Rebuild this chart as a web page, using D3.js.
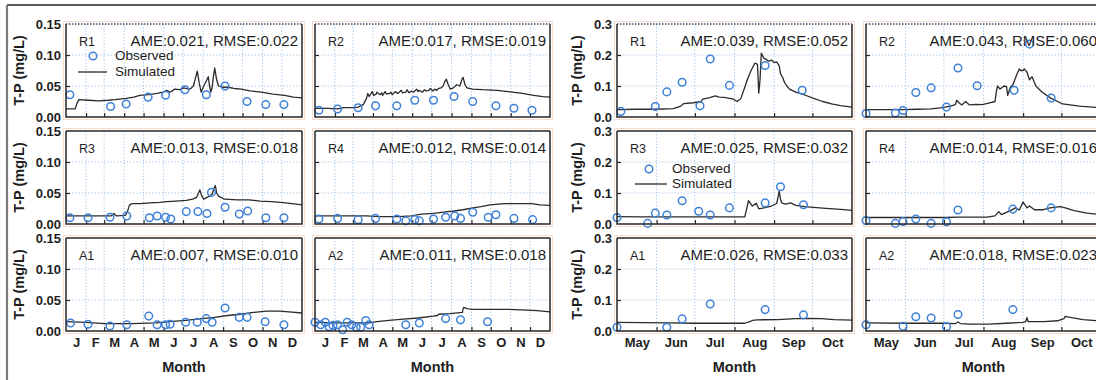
<!DOCTYPE html>
<html>
<head>
<meta charset="utf-8">
<script src="https://cdn.jsdelivr.net/npm/d3@7"></script>
<style>
  html, body { margin: 0; padding: 0; background: #ffffff; }
  svg { display: block; font-family: "Liberation Sans", Arial, Helvetica, sans-serif; }
</style>
</head>
<body>
<svg id="chart" width="1096" height="380"></svg>
<script>
// ---------------- tick labels / categories ----------------
const yearMonthLabels = ["J", "F", "M", "A", "M", "J", "J", "A", "S", "O", "N", "D"];
const seasonMonthLabels = ["May", "Jun", "Jul", "Aug", "Sep", "Oct"];
const yearTicks = [0, 0.05, 0.10, 0.15];
const seasonTicks = [0, 0.1, 0.2, 0.3];
const siteNames = ["R1", "R2", "R3", "R4", "A1", "A2"];

// ---------------- goodness-of-fit labels ----------------
const yearStats = [
  "AME:0.021, RMSE:0.022", "AME:0.017, RMSE:0.019",
  "AME:0.013, RMSE:0.018", "AME:0.012, RMSE:0.014",
  "AME:0.007, RMSE:0.010", "AME:0.011, RMSE:0.018"
];
const seasonStats = [
  "AME:0.039, RMSE:0.052", "AME:0.043, RMSE:0.060",
  "AME:0.025, RMSE:0.032", "AME:0.014, RMSE:0.016",
  "AME:0.026, RMSE:0.033", "AME:0.018, RMSE:0.023"
];

// ---------------- full-year run: [day since Jan 1, T-P mg/L] ----------------
const yearObsR1 = [[6,0.036],[69,0.017],[93,0.021],[127,0.032],[154,0.035],[184,0.044],[217,0.036],[246,0.050],[280,0.025],[309,0.020],[337,0.020]];
const yearSimR1 = [[0,0.013],[14,0.013],[17,0.022],[20,0.028],[35,0.027],[50,0.026],[65,0.027],[76,0.028],[93,0.030],[105,0.032],[114,0.035],[128,0.036],[141,0.038],[150,0.040],[156,0.043],[161,0.040],[168,0.045],[176,0.044],[182,0.047],[186,0.046],[192,0.045],[197,0.050],[200,0.062],[203,0.074],[206,0.055],[209,0.040],[213,0.050],[217,0.058],[220,0.065],[222,0.050],[224,0.040],[226,0.048],[228,0.065],[230,0.079],[233,0.060],[236,0.050],[242,0.048],[250,0.048],[260,0.046],[271,0.045],[285,0.042],[302,0.040],[320,0.037],[338,0.035],[352,0.032],[365,0.031]];

const yearObsR2 = [[6,0.011],[35,0.013],[67,0.015],[94,0.018],[127,0.018],[155,0.027],[184,0.027],[216,0.033],[245,0.025],[281,0.018],[309,0.014],[337,0.011]];
const yearSimR2 = [[0,0.014],[20,0.014],[35,0.013],[45,0.015],[59,0.015],[67,0.016],[75,0.020],[80,0.030],[82,0.038],[84,0.033],[86,0.036],[89,0.041],[91,0.035],[95,0.037],[96,0.040],[101,0.036],[104,0.039],[105,0.035],[109,0.041],[111,0.037],[116,0.038],[118,0.040],[120,0.036],[125,0.041],[128,0.038],[130,0.039],[134,0.043],[136,0.039],[141,0.040],[143,0.044],[146,0.039],[150,0.042],[153,0.040],[158,0.045],[160,0.041],[162,0.043],[167,0.040],[170,0.044],[172,0.042],[177,0.043],[179,0.046],[183,0.042],[186,0.045],[189,0.043],[192,0.046],[196,0.047],[199,0.050],[202,0.058],[204,0.061],[207,0.052],[210,0.045],[215,0.047],[220,0.052],[225,0.050],[228,0.060],[230,0.064],[233,0.052],[236,0.047],[245,0.045],[260,0.044],[283,0.043],[300,0.041],[322,0.038],[340,0.035],[354,0.033],[365,0.032]];

const yearObsR3 = [[6,0.010],[34,0.010],[68,0.011],[94,0.013],[129,0.010],[141,0.013],[154,0.011],[162,0.008],[186,0.020],[204,0.020],[218,0.017],[225,0.051],[246,0.027],[268,0.016],[281,0.021],[309,0.010],[337,0.010]];
const yearSimR3 = [[0,0.013],[30,0.013],[60,0.013],[70,0.013],[74,0.017],[78,0.013],[92,0.014],[95,0.020],[98,0.030],[102,0.033],[115,0.033],[130,0.034],[145,0.035],[156,0.036],[170,0.037],[186,0.038],[196,0.040],[202,0.043],[205,0.050],[207,0.055],[210,0.045],[213,0.040],[218,0.043],[222,0.045],[226,0.048],[229,0.058],[231,0.062],[233,0.050],[236,0.045],[245,0.040],[265,0.039],[283,0.039],[300,0.037],[318,0.036],[340,0.034],[365,0.031]];

const yearObsR4 = [[6,0.008],[35,0.009],[67,0.007],[94,0.009],[127,0.008],[141,0.005],[155,0.007],[162,0.005],[184,0.008],[203,0.011],[217,0.013],[226,0.009],[245,0.019],[269,0.011],[281,0.015],[309,0.009],[338,0.007]];
const yearSimR4 = [[0,0.013],[40,0.013],[80,0.013],[100,0.012],[130,0.012],[150,0.013],[165,0.016],[184,0.017],[200,0.019],[216,0.021],[230,0.023],[245,0.026],[258,0.028],[272,0.031],[285,0.032],[295,0.033],[315,0.033],[336,0.033],[350,0.031],[365,0.030]];

const yearObsA1 = [[7,0.013],[34,0.011],[68,0.008],[94,0.010],[128,0.024],[141,0.010],[154,0.010],[161,0.011],[185,0.014],[203,0.014],[217,0.020],[226,0.014],[246,0.037],[268,0.022],[280,0.022],[308,0.015],[337,0.010]];
const yearSimA1 = [[0,0.015],[30,0.014],[60,0.012],[100,0.012],[140,0.013],[160,0.015],[185,0.017],[210,0.020],[230,0.022],[250,0.025],[270,0.027],[290,0.030],[310,0.032],[330,0.032],[345,0.031],[365,0.029]];

const yearObsA2 = [[0,0.014],[9,0.010],[16,0.014],[22,0.007],[28,0.009],[35,0.010],[43,0.002],[50,0.014],[57,0.010],[64,0.006],[71,0.006],[79,0.017],[84,0.010],[141,0.010],[162,0.013],[203,0.020],[226,0.018],[268,0.015]];
const yearSimA2 = [[0,0.014],[30,0.013],[60,0.013],[84,0.013],[96,0.015],[115,0.017],[137,0.019],[160,0.021],[184,0.024],[190,0.025],[192,0.027],[210,0.028],[229,0.030],[230,0.036],[231,0.038],[236,0.036],[245,0.035],[270,0.035],[300,0.035],[320,0.034],[345,0.033],[365,0.031]];

// ---------------- growing-season run: [day since May 1, T-P mg/L] ----------------
const seasonObsR1 = [[3,0.018],[30,0.034],[39,0.081],[51,0.112],[65,0.036],[73,0.187],[88,0.102],[116,0.166],[145,0.086]];
const seasonSimR1 = [[0,0.024],[15,0.025],[30,0.025],[44,0.027],[50,0.035],[52,0.043],[60,0.046],[66,0.050],[67,0.058],[72,0.062],[77,0.068],[80,0.064],[84,0.063],[88,0.060],[91,0.058],[94,0.050],[97,0.060],[100,0.095],[102,0.120],[105,0.150],[108,0.174],[110,0.170],[111,0.077],[112,0.120],[113,0.206],[115,0.190],[117,0.185],[119,0.180],[121,0.184],[123,0.176],[125,0.178],[127,0.165],[128,0.140],[130,0.125],[131,0.113],[133,0.100],[135,0.090],[140,0.080],[147,0.071],[154,0.060],[161,0.050],[168,0.042],[175,0.037],[184,0.032]];

const seasonObsR2 = [[0,0.011],[23,0.013],[29,0.021],[39,0.079],[51,0.094],[63,0.032],[72,0.158],[87,0.101],[116,0.086],[128,0.235],[145,0.061]];
const seasonSimR2 = [[0,0.024],[15,0.024],[29,0.024],[40,0.025],[51,0.026],[60,0.030],[66,0.035],[70,0.040],[71,0.054],[73,0.045],[75,0.039],[78,0.050],[81,0.039],[86,0.041],[91,0.040],[96,0.045],[101,0.050],[102,0.080],[103,0.100],[105,0.090],[108,0.100],[110,0.098],[111,0.070],[113,0.095],[115,0.104],[118,0.136],[120,0.155],[121,0.150],[123,0.150],[124,0.155],[126,0.145],[128,0.120],[130,0.130],[133,0.100],[138,0.080],[145,0.060],[154,0.042],[167,0.035],[184,0.030]];

const seasonObsR3 = [[0,0.021],[24,0.002],[30,0.035],[39,0.029],[51,0.075],[64,0.041],[73,0.029],[88,0.052],[116,0.068],[128,0.120],[146,0.062]];
const seasonSimR3 = [[0,0.024],[20,0.023],[50,0.023],[80,0.023],[100,0.023],[101,0.040],[103,0.075],[106,0.058],[109,0.067],[111,0.049],[115,0.052],[121,0.058],[125,0.066],[126,0.085],[127,0.105],[128,0.080],[129,0.068],[132,0.064],[136,0.068],[140,0.060],[147,0.056],[161,0.051],[175,0.047],[184,0.044]];

const seasonObsR4 = [[0,0.011],[23,0.002],[29,0.008],[39,0.016],[51,0.002],[63,0.007],[72,0.045],[115,0.048],[145,0.052]];
const seasonSimR4 = [[0,0.021],[30,0.021],[60,0.021],[72,0.022],[85,0.022],[95,0.022],[101,0.026],[104,0.040],[106,0.030],[109,0.036],[113,0.043],[117,0.052],[120,0.045],[123,0.071],[126,0.052],[128,0.058],[132,0.046],[139,0.046],[144,0.052],[152,0.056],[156,0.052],[163,0.043],[173,0.035],[184,0.030]];

const seasonObsA1 = [[0,0.012],[39,0.012],[51,0.039],[73,0.087],[116,0.069],[146,0.052]];
const seasonSimA1 = [[0,0.028],[20,0.027],[40,0.026],[60,0.025],[80,0.025],[100,0.025],[104,0.030],[106,0.034],[110,0.036],[126,0.037],[140,0.040],[150,0.041],[160,0.040],[170,0.037],[184,0.035]];

const seasonObsA2 = [[0,0.020],[29,0.015],[39,0.046],[51,0.042],[63,0.014],[72,0.053],[115,0.069]];
const seasonSimA2 = [[0,0.026],[30,0.025],[60,0.025],[70,0.024],[72,0.029],[74,0.024],[81,0.022],[96,0.022],[110,0.025],[123,0.028],[125,0.030],[126,0.043],[127,0.030],[139,0.030],[150,0.033],[155,0.040],[156,0.047],[161,0.043],[170,0.037],[184,0.032]];

// ---------------- figure assembly ----------------
const svg = d3.select("#chart");
const colors = { frame: "#262626", grid: "#9fc3e6", obs: "#3f82d8", sim: "#2b2b2b", text: "#1e1e1e", halo: "#f6dccd" };

// outer figure border
svg.append("line").attr("x1", 7).attr("x2", 1096).attr("y1", 5).attr("y2", 5)
  .attr("stroke", "#1f1f1f").attr("stroke-width", 1.5);
svg.append("line").attr("x1", 7).attr("x2", 7).attr("y1", 5).attr("y2", 380)
  .attr("stroke", "#7a7a7a").attr("stroke-width", 2.2);

const rowsY = [[24, 117], [131, 224], [238, 331]];

const groups = [
  {
    cols: [[66, 302], [315, 550]],
    start: new Date(Date.UTC(2011, 0, 1)), end: new Date(Date.UTC(2012, 0, 1)),
    yMax: 0.15, ticks: yearTicks, fmt: d3.format(".2f"), months: yearMonthLabels,
    stats: yearStats,
    obs: [yearObsR1, yearObsR2, yearObsR3, yearObsR4, yearObsA1, yearObsA2],
    sim: [yearSimR1, yearSimR2, yearSimR3, yearSimR4, yearSimA1, yearSimA2],
    legendPanel: 0,
    legend: { cx: 27, cy: 32, tx: 49, ty1: 36, lx1: 12, lx2: 41, ly: 48, ty2: 52 },
    yTitleX: 19
  },
  {
    cols: [[617, 852], [866, 1101]],
    start: new Date(Date.UTC(2011, 4, 1)), end: new Date(Date.UTC(2011, 10, 1)),
    yMax: 0.3, ticks: seasonTicks, fmt: d3.format(".1f"), months: seasonMonthLabels,
    stats: seasonStats,
    obs: [seasonObsR1, seasonObsR2, seasonObsR3, seasonObsR4, seasonObsA1, seasonObsA2],
    sim: [seasonSimR1, seasonSimR2, seasonSimR3, seasonSimR4, seasonSimA1, seasonSimA2],
    legendPanel: 2,
    legend: { cx: 32, cy: 38, tx: 55, ty1: 42, lx1: 18, lx2: 50, ly: 53, ty2: 57 },
    yTitleX: 577
  }
];

groups.forEach((g, gi) => {
  const monthStarts = d3.utcMonth.range(g.start, g.end);
  const monthBounds = monthStarts.slice(1);
  const monthMids = monthStarts.map(m => new Date((+m + +d3.utcMonth.offset(m, 1)) / 2));

  siteNames.forEach((site, p) => {
    const row = Math.floor(p / 2), col = p % 2;
    const [x0, x1] = g.cols[col];
    const [y0, y1] = rowsY[row];
    const x = d3.scaleUtc().domain([g.start, g.end]).range([x0, x1]);
    const y = d3.scaleLinear().domain([0, g.yMax]).range([y1, y0]);
    const day = d => d3.utcDay.offset(g.start, d[0]);

    const panel = svg.append("g").attr("class", `panel g${gi}-${site}`);
    const clipId = `clip-${gi}-${p}`;
    panel.append("clipPath").attr("id", clipId)
      .append("rect").attr("x", x0).attr("y", y0 - 6).attr("width", x1 - x0).attr("height", y1 - y0 + 12);

    // soft warm fringe around the frame
    panel.append("rect").attr("x", x0 - 2.5).attr("y", y0 - 2.5)
      .attr("width", x1 - x0 + 5).attr("height", y1 - y0 + 5)
      .attr("fill", "none").attr("stroke", colors.halo).attr("stroke-width", 1);

    // dotted grid
    const grid = panel.append("g").attr("stroke", colors.grid).attr("stroke-width", 1)
      .attr("stroke-dasharray", "1.2,2");
    grid.selectAll("line.v").data(monthBounds).join("line").attr("class", "v")
      .attr("x1", d => x(d)).attr("x2", d => x(d)).attr("y1", y0).attr("y2", y1);
    grid.selectAll("line.h").data(g.ticks.filter(t => t > 0 && t < g.yMax)).join("line").attr("class", "h")
      .attr("x1", x0).attr("x2", x1).attr("y1", d => y(d)).attr("y2", d => y(d));

    // y axis (inward ticks), labels only on the left column
    const yAxis = d3.axisLeft(y).tickValues(g.ticks).tickSize(-4).tickPadding(5)
      .tickFormat(col === 0 ? g.fmt : "");
    const ya = panel.append("g").attr("transform", `translate(${x0},0)`).call(yAxis);
    ya.select(".domain").remove();
    ya.selectAll(".tick line").attr("stroke", colors.frame).attr("stroke-width", 1.2);
    ya.selectAll(".tick text").attr("fill", colors.text).attr("font-size", 13).attr("font-weight", "bold");
    ya.selectAll(".tick").filter(d => d === 0 || d === g.yMax).select("line").remove();

    // x axis month boundaries (inward ticks)
    const xa = panel.append("g").attr("transform", `translate(0,${y1})`)
      .call(d3.axisBottom(x).tickValues(monthBounds).tickSize(-4).tickFormat(""));
    xa.select(".domain").remove();
    xa.selectAll(".tick line").attr("stroke", colors.frame).attr("stroke-width", 1.2);

    // month names centred on each month, bottom row only
    if (row === 2) {
      const ml = panel.append("g").attr("transform", `translate(0,${y1})`)
        .call(d3.axisBottom(x).tickValues(monthMids).tickSize(0).tickPadding(7)
          .tickFormat((d, i) => g.months[i]));
      ml.select(".domain").remove();
      ml.selectAll(".tick text").attr("fill", colors.text).attr("font-size", 13).attr("font-weight", "bold");
      panel.append("text").attr("x", (x0 + x1) / 2).attr("y", 372).attr("text-anchor", "middle")
        .attr("font-size", 14.5).attr("font-weight", "bold").attr("fill", colors.text).text("Month");
    }

    // y title on the left column
    if (col === 0) {
      panel.append("text")
        .attr("transform", `translate(${g.yTitleX},${(y0 + y1) / 2}) rotate(-90)`)
        .attr("text-anchor", "middle").attr("dy", "0.35em")
        .attr("font-size", 14.5).attr("font-weight", "bold").attr("fill", colors.text)
        .text("T-P (mg/L)");
    }

    // simulated series
    const line = d3.line().x(d => x(day(d))).y(d => y(d[1]));
    panel.append("path").datum(g.sim[p]).attr("d", line)
      .attr("clip-path", `url(#${clipId})`)
      .attr("fill", "none").attr("stroke", colors.sim).attr("stroke-width", 1.3)
      .attr("stroke-linejoin", "round");

    // observed samples
    panel.append("g").selectAll("circle").data(g.obs[p]).join("circle")
      .attr("cx", d => x(day(d))).attr("cy", d => y(d[1])).attr("r", 3.8)
      .attr("fill", "none").attr("stroke", colors.obs).attr("stroke-width", 1.5);

    // frame (top row has a dotted upper edge)
    const fr = panel.append("g").attr("stroke", colors.frame).attr("stroke-width", 1.5).attr("fill", "none");
    fr.append("path").attr("d", `M${x0},${y0}V${y1}H${x1}V${y0}`);
    fr.append("line").attr("x1", x0).attr("x2", x1).attr("y1", y0).attr("y2", y0)
      .attr("stroke-dasharray", row === 0 ? "1.5,1.5" : null)
      .attr("stroke", row === 0 ? "#3b4a66" : colors.frame);

    // site label and fit statistics
    panel.append("text").attr("x", x0 + 13).attr("y", y0 + 22)
      .attr("font-size", 12.5).attr("fill", colors.text).text(site);
    panel.append("text").attr("x", x1 - 4).attr("y", y0 + 22).attr("text-anchor", "end")
      .attr("font-size", 15).attr("fill", colors.text).text(g.stats[p]);

    // legend
    if (p === g.legendPanel) {
      const L = g.legend;
      panel.append("circle").attr("cx", x0 + L.cx).attr("cy", y0 + L.cy).attr("r", 3.8)
        .attr("fill", "none").attr("stroke", colors.obs).attr("stroke-width", 1.5);
      panel.append("text").attr("x", x0 + L.tx).attr("y", y0 + L.ty1)
        .attr("font-size", 13.5).attr("fill", colors.text).text("Observed");
      panel.append("line").attr("x1", x0 + L.lx1).attr("x2", x0 + L.lx2).attr("y1", y0 + L.ly).attr("y2", y0 + L.ly)
        .attr("stroke", colors.sim).attr("stroke-width", 1.3);
      panel.append("text").attr("x", x0 + L.tx).attr("y", y0 + L.ty2)
        .attr("font-size", 13.5).attr("fill", colors.text).text("Simulated");
    }
  });
});
</script>
</body>
</html>
